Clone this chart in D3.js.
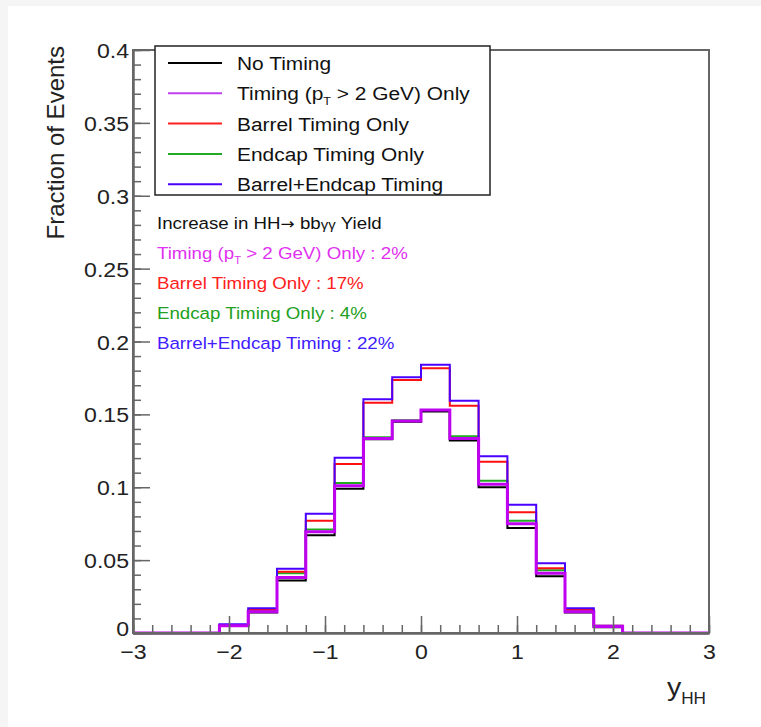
<!DOCTYPE html>
<html>
<head>
<meta charset="utf-8">
<script src="https://cdn.jsdelivr.net/npm/d3@7"></script>
<style>
  body { margin: 0; background: #fff; }
  text { font-family: "Liberation Sans", Arial, Helvetica, sans-serif; }
</style>
</head>
<body>
<script>
// bin edges of y_HH (0.3 wide bins)
var binEdges = [-3, -2.7, -2.4, -2.1, -1.8, -1.5, -1.2, -0.9, -0.6, -0.3, 0,
                0.3, 0.6, 0.9, 1.2, 1.5, 1.8, 2.1, 2.4, 2.7, 3];

// fraction of events per bin
var noTiming     = [0, 0, 0, 0.005, 0.014, 0.036, 0.067, 0.099, 0.133, 0.145, 0.152, 0.132, 0.100, 0.072, 0.039, 0.014, 0.004, 0, 0, 0];
var ptTiming     = [0, 0, 0, 0.005, 0.0145, 0.038, 0.0695, 0.101, 0.1335, 0.1455, 0.153, 0.1335, 0.102, 0.075, 0.041, 0.0145, 0.0045, 0, 0, 0];
var barrelTiming = [0, 0, 0, 0.0055, 0.016, 0.042, 0.077, 0.116, 0.158, 0.1736, 0.1816, 0.156, 0.1175, 0.0828, 0.0444, 0.016, 0.005, 0, 0, 0];
var endcapTiming = [0, 0, 0, 0.005, 0.015, 0.041, 0.071, 0.103, 0.1343, 0.146, 0.153, 0.135, 0.1045, 0.077, 0.043, 0.015, 0.0045, 0, 0, 0];
var bothTiming   = [0, 0, 0, 0.006, 0.017, 0.044, 0.0818, 0.1203, 0.1603, 0.1754, 0.184, 0.1594, 0.1212, 0.088, 0.0478, 0.017, 0.005, 0, 0, 0];

var seriesNames  = ["No Timing", "Timing (p_T > 2 GeV) Only", "Barrel Timing Only", "Endcap Timing Only", "Barrel+Endcap Timing"];
var yieldGain    = ["2%", "17%", "4%", "22%"];

var xTicks = [-3, -2, -1, 0, 1, 2, 3];
var yTicks = [0, 0.05, 0.1, 0.15, 0.2, 0.25, 0.3, 0.35, 0.4];

var width = 761, height = 727;
var sx = 1.1; // the picture is a little wider than tall

var svg = d3.select("body").append("svg").attr("width", width).attr("height", height);
svg.append("rect").attr("width", width).attr("height", height).attr("fill", "#f5f5f5");
svg.append("rect").attr("x", 8).attr("y", 6).attr("width", width - 8).attr("height", height - 6).attr("fill", "#fff");

var x = d3.scaleLinear().domain([-3, 3]).range([133, 709]);
var y = d3.scaleLinear().domain([0, 0.4]).range([633, 50]);

function label(g, px, py, size, anchor, color) {
	return g.append("text")
		.attr("transform", "translate(" + px + "," + py + ") scale(" + sx + ",1)")
		.attr("font-size", size)
		.attr("text-anchor", anchor)
		.attr("fill", color);
}

// label with p_T subscript
function ptLabel(t, before, after) {
	t.append("tspan").text(before + "p");
	t.append("tspan").attr("font-size", "0.6em").attr("dy", 5).text("T");
	t.append("tspan").attr("dy", -5).text(after);
}

// ---- histograms
var hists = [
	{ v: noTiming, c: "#000000", w: 2 },
	{ v: endcapTiming, c: "#22aa22", w: 2 },
	{ v: barrelTiming, c: "#ff1010", w: 2 },
	{ v: bothTiming, c: "#4a00ff", w: 2 },
	{ v: ptTiming, c: "#c000f0", w: 3 }
];

var line = d3.line()
	.x(function(d) { return x(d[0]); })
	.y(function(d) { return y(d[1]); })
	.curve(d3.curveStepAfter);

svg.append("g").selectAll("path")
	.data(hists)
	.enter().append("path")
		.attr("fill", "none")
		.attr("stroke", function(d) { return d.c; })
		.attr("stroke-width", function(d) { return d.w; })
		.attr("d", function(d) {
			var pts = d.v.map(function(v, i) { return [binEdges[i], v]; });
			pts.push([binEdges[binEdges.length - 1], d.v[d.v.length - 1]]);
			return line(pts);
		});

// ---- frame and axes
svg.append("rect")
	.attr("x", x(-3)).attr("y", y(0.4))
	.attr("width", x(3) - x(-3)).attr("height", y(0) - y(0.4))
	.attr("fill", "none").attr("stroke", "#666").attr("stroke-width", 2);

var yAxis = svg.append("g").attr("transform", "translate(" + x(-3) + ",0)")
	.call(d3.axisLeft(y).tickValues(yTicks).tickSizeInner(-17).tickSizeOuter(0).tickPadding(5)
		.tickFormat(function(d) { return d === 0 ? "0" : String(d); }));
var yMinor = svg.append("g").attr("transform", "translate(" + x(-3) + ",0)")
	.call(d3.axisLeft(y).ticks(40).tickSizeInner(-8).tickSizeOuter(0).tickFormat(""));

var xAxis = svg.append("g").attr("transform", "translate(0," + y(0) + ")")
	.call(d3.axisBottom(x).tickValues(xTicks).tickSizeInner(-17).tickSizeOuter(0).tickPadding(11)
		.tickFormat(d3.format("d")));
var xMinor = svg.append("g").attr("transform", "translate(0," + y(0) + ")")
	.call(d3.axisBottom(x).ticks(30).tickSizeInner(-8).tickSizeOuter(0).tickFormat(""));

[yAxis, yMinor, xAxis, xMinor].forEach(function(a) {
	a.select(".domain").attr("stroke", "#666").attr("stroke-width", 2);
	a.selectAll(".tick line").attr("stroke", "#666").attr("stroke-width", 1.5);
	a.selectAll("text")
		.attr("font-size", 21)
		.attr("fill", "#222")
		.attr("font-family", "Liberation Sans, Arial, sans-serif");
});
xAxis.selectAll(".tick text").attr("transform", "scale(" + sx + ",1)").attr("dy", "0.72em")
	.attr("x", function() { return 0; });
xAxis.selectAll(".tick").each(function(d) {
	// scale() also moves the label, so place it in the scaled frame
	d3.select(this).select("text").attr("transform", null)
		.attr("transform", "scale(" + sx + ",1)");
});
yAxis.selectAll(".tick text").attr("dy", "0.36em")
	.attr("transform", "scale(" + sx + ",1)")
	.attr("x", -4 / sx);
// the "0" of the y axis sits a little higher so it clears "-3"
yAxis.selectAll(".tick text").filter(function(d) { return d === 0; }).attr("dy", "0.1em");

// axis titles
svg.append("text")
	.attr("transform", "translate(64,46) rotate(-90)")
	.attr("text-anchor", "end")
	.attr("font-size", 24)
	.attr("fill", "#222")
	.text("Fraction of Events");

var xt = label(svg, 706, 696, 26, "end", "#222");
xt.append("tspan").text("y");
xt.append("tspan").attr("font-size", "0.6em").attr("dy", 8).text("HH");

// ---- legend
var legend = svg.append("g");
legend.append("rect")
	.attr("x", 155).attr("y", 46).attr("width", 335).attr("height", 149)
	.attr("fill", "#fff").attr("stroke", "#222").attr("stroke-width", 1.5);

var legendColors = ["#000000", "#c040f0", "#ff2020", "#22aa22", "#4a00ff"];
var rows = legend.selectAll("g.row")
	.data(seriesNames)
	.enter().append("g")
		.attr("class", "row")
		.attr("transform", function(d, i) { return "translate(0," + (63 + i * 30.3) + ")"; });

rows.append("line")
	.attr("x1", 168).attr("x2", 222)
	.attr("stroke", function(d, i) { return legendColors[i]; })
	.attr("stroke-width", 2);

rows.each(function(d, i) {
	var t = label(d3.select(this), 237, 7, 19, "start", "#111");
	if (d.indexOf("p_T") >= 0) {
		ptLabel(t, "Timing (", " > 2 GeV) Only");
	} else {
		t.text(d);
	}
});

// ---- yield increase notes
var notes = svg.append("g");
var head = label(notes, 157, 229, 17, "start", "#111");
head.append("tspan").text("Increase in HH");
head.append("tspan").attr("font-family", "DejaVu Sans").attr("font-size", "0.9em").text("\u2192");
head.append("tspan").text(" bb");
head.append("tspan").attr("font-size", "0.8em").text("\u03b3\u03b3");
head.append("tspan").text("  Yield");

var noteColors = ["#e030f0", "#ff2020", "#22a022", "#4020ff"];
yieldGain.forEach(function(g, i) {
	var t = label(notes, 157, 259 + i * 30, 17, "start", noteColors[i]);
	var name = seriesNames[i + 1];
	if (name.indexOf("p_T") >= 0) {
		ptLabel(t, "Timing (", " > 2 GeV) Only : " + g);
	} else {
		t.text(name + " : " + g);
	}
});
</script>
</body>
</html>
